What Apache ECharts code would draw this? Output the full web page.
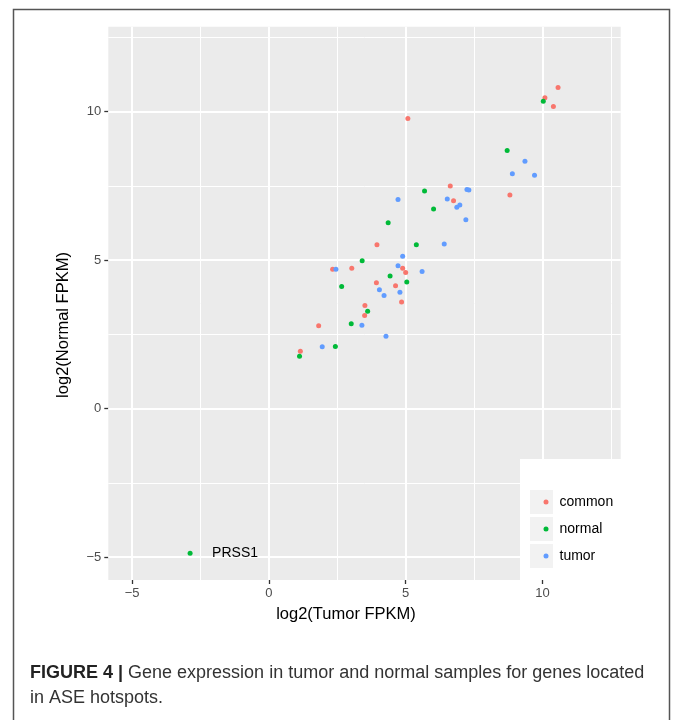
<!DOCTYPE html>
<html>
<head>
<meta charset="utf-8">
<script src="https://cdn.jsdelivr.net/npm/echarts@6/dist/echarts.min.js"></script>
<style>
html,body{margin:0;padding:0;background:#fff;}
#chart{width:673px;height:720px;}
</style>
</head>
<body>
<div id="chart"></div>
<script>
// ---- data (log2 Tumor FPKM, log2 Normal FPKM) ----
const categories = ['common', 'normal', 'tumor'];
const commonPoints = [
  [10.57,10.81],[10.09,10.47],[10.40,10.17],[5.08,9.77],[6.63,7.50],[8.81,7.19],
  [6.75,7.00],[3.95,5.52],[2.33,4.69],[3.03,4.73],[4.89,4.73],[5.00,4.58],
  [3.93,4.24],[4.63,4.14],[4.85,3.59],[3.51,3.47],[3.50,3.14],[1.82,2.79],[1.15,1.93]
];
const normalPoints = [
  [10.03,10.35],[8.71,8.69],[5.69,7.33],[6.02,6.72],[4.36,6.26],[5.39,5.52],
  [3.41,4.98],[4.43,4.47],[5.04,4.26],[2.66,4.11],[3.61,3.28],[3.01,2.86],
  [2.43,2.09],[1.12,1.76]
];
const labelledPoint = { name: 'PRSS1', value: [-2.88, -4.87], group: 'normal' };
const tumorPoints = [
  [9.36,8.33],[8.90,7.91],[9.71,7.86],[7.24,7.38],[7.31,7.36],[6.52,7.06],
  [6.98,6.86],[6.87,6.78],[4.72,7.04],[7.20,6.36],[6.41,5.54],[4.89,5.13],
  [2.45,4.69],[4.72,4.81],[5.60,4.62],[4.04,4.00],[4.79,3.92],[4.21,3.81],
  [3.40,2.81],[4.28,2.44],[1.95,2.08]
];
const majorTicks = [-5, 0, 5, 10];
const minorTicks = [-2.5, 2.5, 7.5, 12.5];
const xRange = [-5.87, 12.86];
const yRange = [-5.77, 12.86];
const colors = { common: '#F8766D', normal: '#00BA38', tumor: '#619CFF' };
const xTitle = 'log2(Tumor FPKM)';
const yTitle = 'log2(Normal FPKM)';
const captionBold = 'FIGURE 4 |';
const captionLine1 = ' Gene expression in tumor and normal samples for genes located';
const captionLine2 = 'in ASE hotspots.';

const FONT = '"Liberation Sans", Arial, Helvetica, sans-serif';
const minus = v => String(v).replace('-', '\u2212');

const gridLines = [];
majorTicks.forEach(v => {
  gridLines.push({ xAxis: v, lineStyle: { width: 2 } });
  gridLines.push({ yAxis: v, lineStyle: { width: 2 } });
});
minorTicks.forEach(v => {
  gridLines.push({ xAxis: v, lineStyle: { width: 1 } });
  gridLines.push({ yAxis: v, lineStyle: { width: 1 } });
});

const chart = echarts.init(document.getElementById('chart'), null, { renderer: 'canvas' });

const axisCommon = {
  type: 'value',
  axisLine: { show: false, onZero: false },
  splitLine: { show: false },
  axisTick: { show: true, customValues: majorTicks, length: 4, lineStyle: { color: '#333333', width: 1.3 } },
  axisLabel: { customValues: majorTicks, formatter: minus, color: '#4D4D4D', fontSize: 13, fontFamily: FONT, margin: 7 }
};

const option = {
  animation: false,
  backgroundColor: '#ffffff',
  grid: {
    left: 108.3, top: 26.7, right: 52.3, bottom: 140,
    show: true, backgroundColor: '#EBEBEB', borderWidth: 0
  },
  xAxis: Object.assign({}, axisCommon, { min: xRange[0], max: xRange[1] }),
  yAxis: Object.assign({}, axisCommon, { min: yRange[0], max: yRange[1] }),
  legend: {
    data: categories,
    orient: 'vertical',
    left: 538.5, top: 489,
    icon: 'circle', itemWidth: 5, itemHeight: 5, itemGap: 11,
    z: 20,
    textStyle: { fontSize: 14, lineHeight: 16, color: '#000', fontFamily: FONT, padding: [0, 0, 0, 6] },
    selectedMode: false
  },
  graphic: [
    { type: 'rect', z: 10, shape: { x: 520, y: 459, width: 101, height: 121 }, style: { fill: '#ffffff' } },
    { type: 'rect', z: 11, shape: { x: 530, y: 490, width: 23, height: 24 }, style: { fill: '#F2F2F2' } },
    { type: 'rect', z: 11, shape: { x: 530, y: 517, width: 23, height: 24 }, style: { fill: '#F2F2F2' } },
    { type: 'rect', z: 11, shape: { x: 530, y: 544, width: 23, height: 24 }, style: { fill: '#F2F2F2' } },
    { type: 'text', z: 12, x: 346, y: 614, style: { text: xTitle, fontSize: 16.5, fontFamily: FONT, fill: '#000', textAlign: 'center', textVerticalAlign: 'middle' } },
    { type: 'text', z: 12, x: 63, y: 325, rotation: Math.PI / 2, style: { text: yTitle, fontSize: 16.5, fontFamily: FONT, fill: '#000', textAlign: 'center', textVerticalAlign: 'middle' } },
    { type: 'text', z: 12, left: 30, top: 664, style: {
        text: '{b|' + captionBold + '}{n|' + captionLine1 + '}',
        rich: { b: { fontWeight: 'bold', fontSize: 18, fontFamily: FONT, fill: '#222' }, n: { fontSize: 18, fontFamily: FONT, fill: '#333' } }
    } },
    { type: 'text', z: 12, left: 30, top: 689, style: { text: captionLine2, fontSize: 18, fontFamily: FONT, fill: '#333' } },
    { type: 'rect', z: 30, shape: { x: 13.5, y: 9.5, width: 656, height: 760 }, style: { fill: 'none', stroke: '#555555', lineWidth: 1.5 } }
  ],
  series: [
    {
      name: '_grid', type: 'scatter', data: [], silent: true, z: 1,
      markLine: { silent: true, z: 1, symbol: 'none', label: { show: false }, animation: false,
        lineStyle: { color: '#ffffff', type: 'solid' }, data: gridLines }
    },
    {
      name: 'common', type: 'scatter', z: 2, symbolSize: 5, data: commonPoints,
      itemStyle: { color: colors.common, opacity: 1 }
    },
    {
      name: 'normal', type: 'scatter', z: 2, symbolSize: 5,
      data: normalPoints.concat([{
        name: labelledPoint.name, value: labelledPoint.value,
        label: { show: true, position: 'right', distance: 19.5, formatter: '{b}', fontSize: 14, fontFamily: FONT, color: '#000' }
      }]),
      itemStyle: { color: colors.normal, opacity: 1 }
    },
    {
      name: 'tumor', type: 'scatter', z: 2, symbolSize: 5, data: tumorPoints,
      itemStyle: { color: colors.tumor, opacity: 1 }
    }
  ]
};
chart.setOption(option);
</script>
</body>
</html>
